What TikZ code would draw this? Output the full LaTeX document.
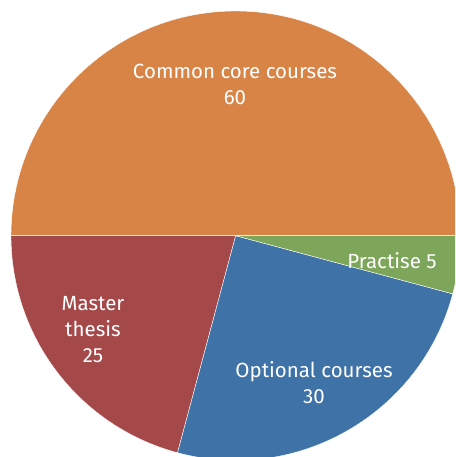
\documentclass[tikz,border=0pt]{standalone}
\usepackage{fontspec}
\setmainfont{Fira Sans}
\usepackage{tikz}

\definecolor{coreorange}{RGB}{216,132,70}
\definecolor{thesisred}{RGB}{165,72,74}
\definecolor{optblue}{RGB}{63,114,167}
\definecolor{practgreen}{RGB}{126,166,90}

\tikzset{
    slice/.style={draw=white, line width=0.4pt},
    slicelabel/.style={text=white, font=\fontsize{20.5}{26}\selectfont, align=center, inner sep=0pt}
}

\begin{document}
\begin{tikzpicture}[x=1pt, y=1pt]
    \clip (0, 0) rectangle (455, 457);
    \useasboundingbox (0, 0) rectangle (455, 457);
    \coordinate (c) at (235.7, 221.3);
    % slices, 120 credits in total
    \filldraw[slice, fill=coreorange] (c) -- ++(0:224.7) arc[start angle=0, end angle=180, radius=224.7] -- cycle;
    \filldraw[slice, fill=thesisred] (c) -- ++(180:224.7) arc[start angle=180, end angle=255, radius=224.7] -- cycle;
    \filldraw[slice, fill=optblue] (c) -- ++(255:224.7) arc[start angle=255, end angle=345, radius=224.7] -- cycle;
    \filldraw[slice, fill=practgreen] (c) -- ++(345:224.7) arc[start angle=345, end angle=360, radius=224.7] -- cycle;

    \node[slicelabel] (core) at (235, 373) {Common core courses\\60};
    \node[slicelabel] (pract) at (392, 196) {Practise 5};
    \node[slicelabel] (thesis) at (93, 127) {Master\\thesis\\25};
    \node[slicelabel] (opt) at (314, 74) {Optional courses\\30};
\end{tikzpicture}
\end{document}
